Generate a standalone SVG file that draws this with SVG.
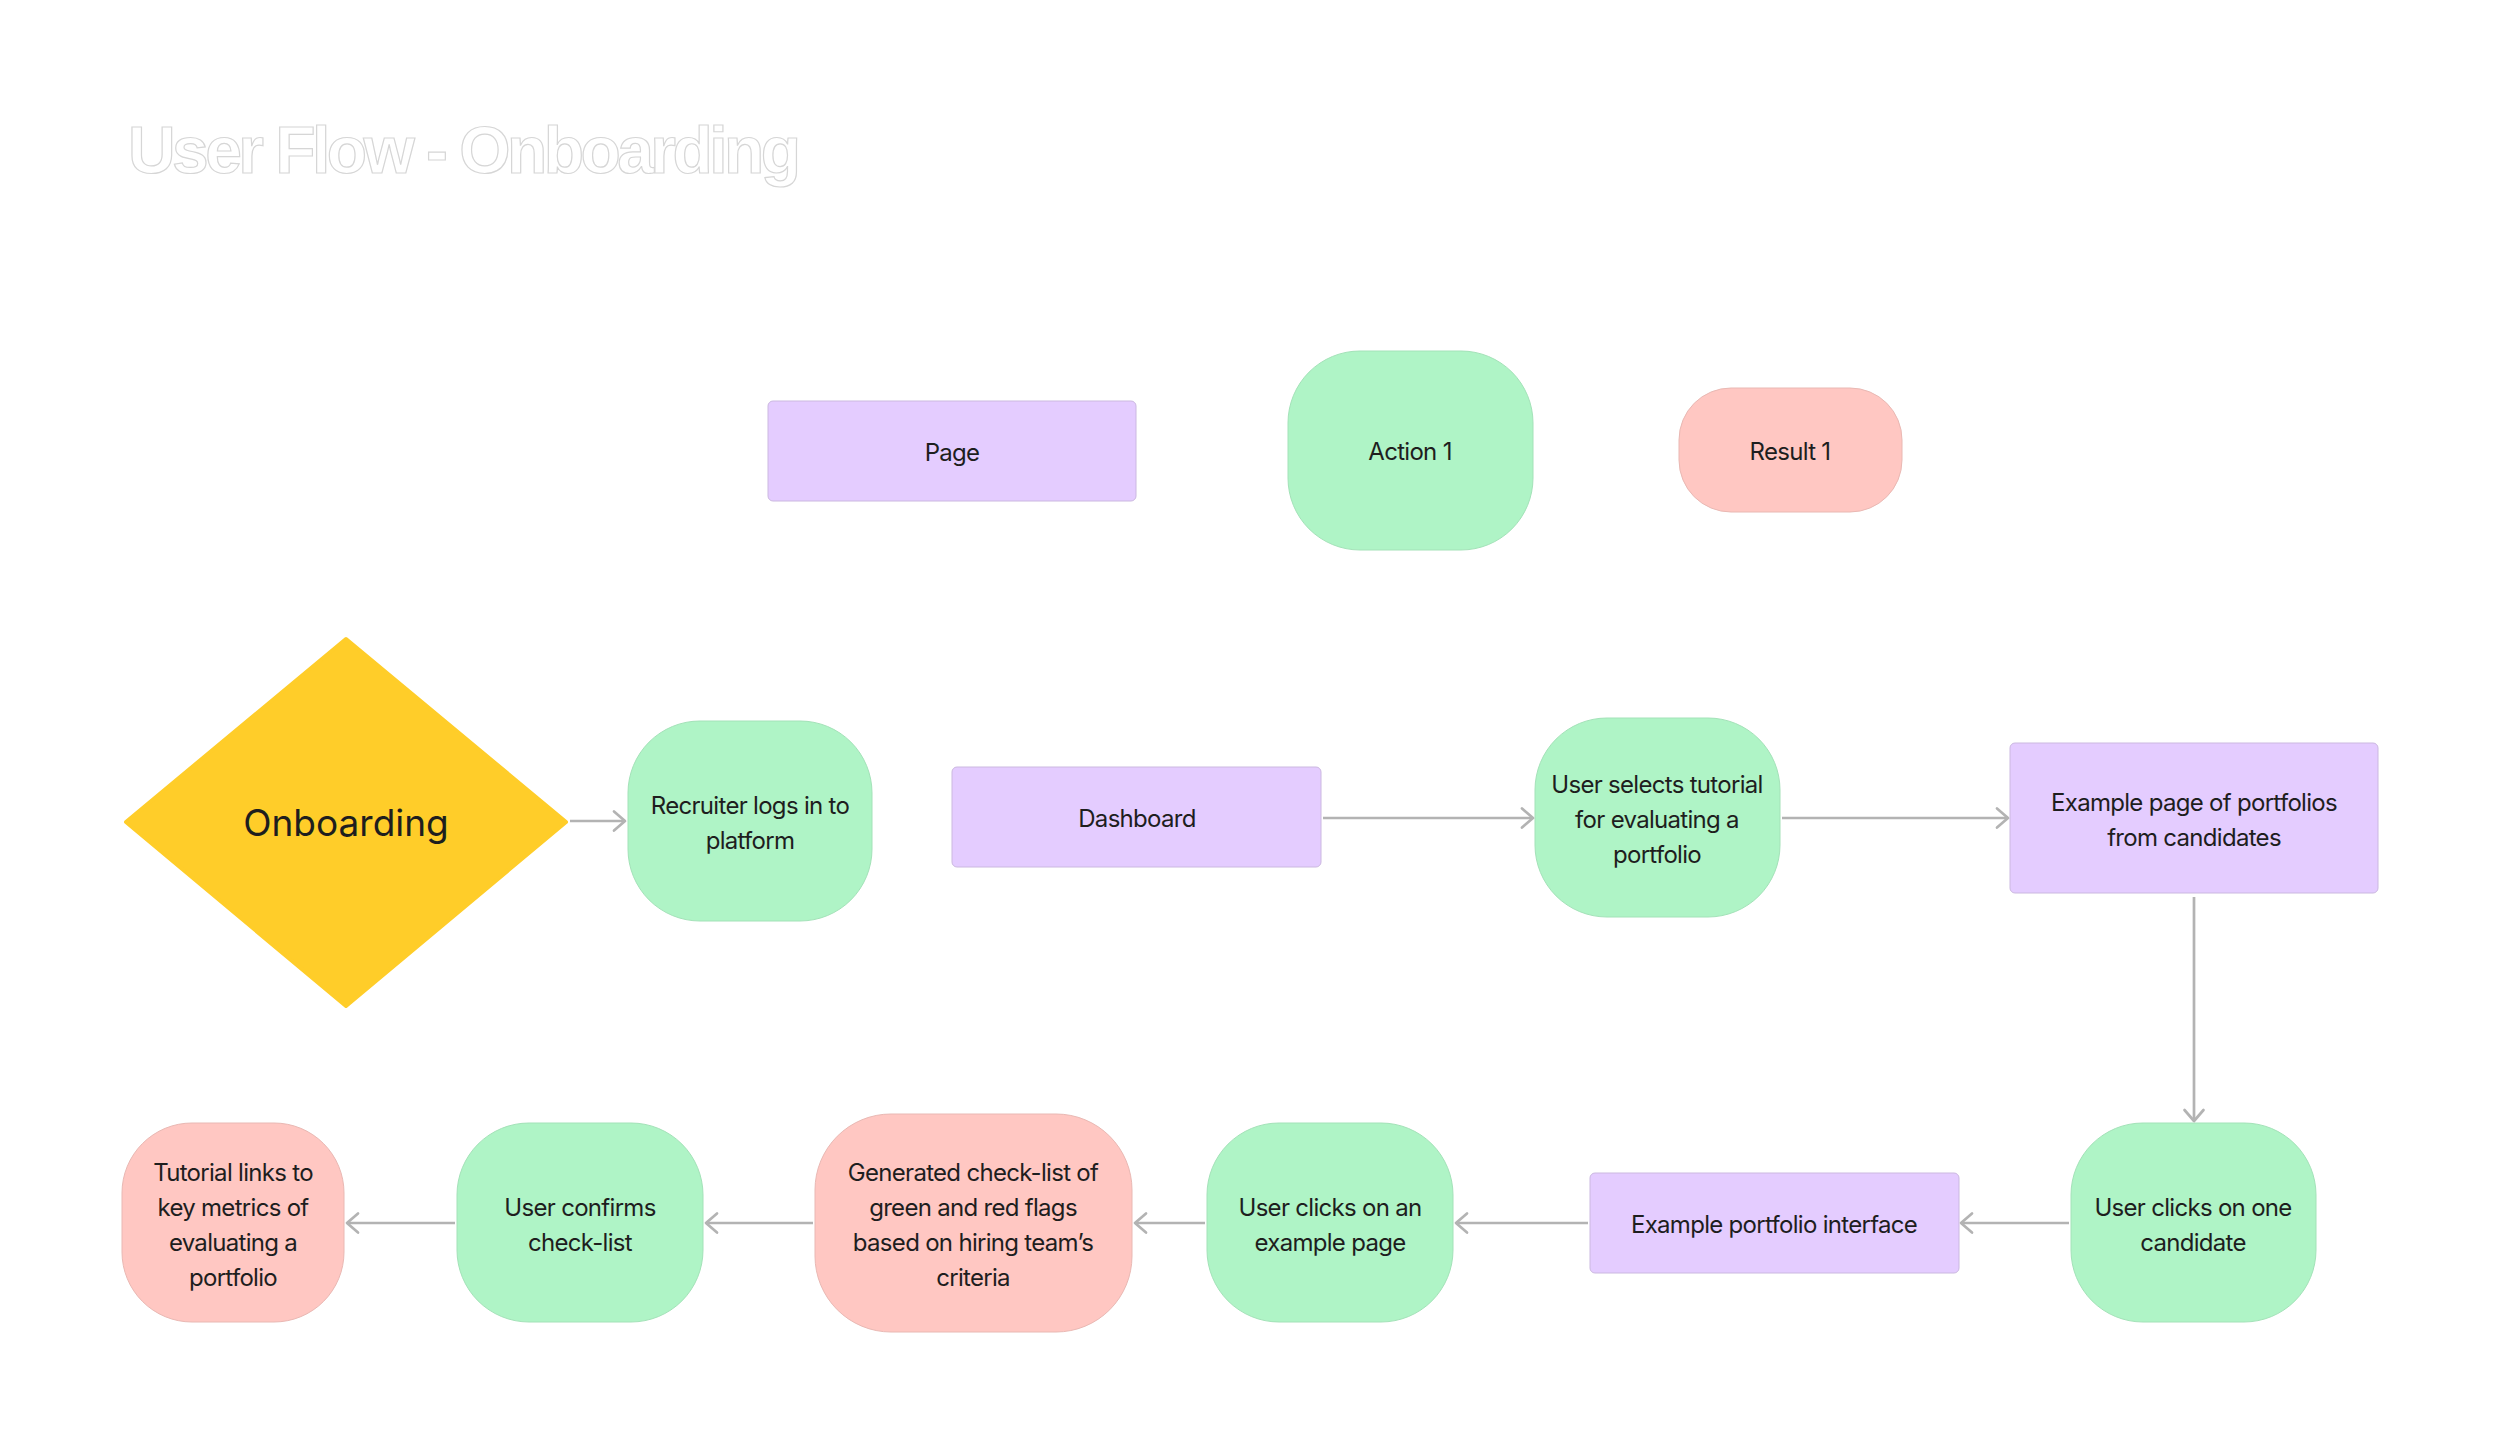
<svg xmlns="http://www.w3.org/2000/svg" width="2500" height="1455" viewBox="0 0 2500 1455">
<style>
.t{font-family:Inter,"Noto Sans",sans-serif;font-size:24px;letter-spacing:-0.7px;fill:#1e1e1e;text-anchor:middle}
.g{fill:#AFF4C6;stroke:#a3e2b8;stroke-width:1}
.p{fill:#FFC7C2;stroke:#e9b8b3;stroke-width:1}
.v{fill:#E4CCFF;stroke:#cbb8e0;stroke-width:1}
.c{stroke:#B3B3B3;stroke-width:2.7;fill:none;marker-end:url(#ah)}
.title{font-family:"Liberation Sans",Arial,sans-serif;font-weight:bold;font-size:66px;fill:#ffffff;stroke:#d6d6d6;stroke-width:1.2}
</style>
<defs>
<marker id="ah" markerUnits="userSpaceOnUse" viewBox="-14 -12 16 24" markerWidth="16" markerHeight="24" refX="0" refY="0" orient="auto">
<path d="M -11 -9.5 L 0 0 L -11 9.5" fill="none" stroke="#B3B3B3" stroke-width="2.7" stroke-linecap="round" stroke-linejoin="round"/>
</marker>
</defs>
<rect width="2500" height="1455" fill="#ffffff"/>
<text class="title" x="128" y="173" textLength="673" lengthAdjust="spacing">User Flow - Onboarding</text>

<g id="legend-page"><rect class="v" x="768" y="401" width="368" height="100" rx="5"/><text class="t" x="952" y="461">Page</text></g>
<g id="legend-action"><rect class="g" x="1288" y="351" width="245" height="199" rx="72"/><text class="t" x="1410" y="460">Action 1</text></g>
<g id="legend-result"><rect class="p" x="1679" y="388" width="223" height="124" rx="52"/><text class="t" x="1790" y="460">Result 1</text></g>

<g id="onboarding"><polygon points="126,822 346,639 566,822 346,1006" fill="#FFCD29" stroke="#FFCD29" stroke-width="4" stroke-linejoin="round"/><text x="346" y="836" style="font-family:Inter,'Noto Sans',sans-serif;font-size:37px;fill:#1e1e1e;text-anchor:middle">Onboarding</text></g>

<g id="recruiter"><rect class="g" x="628" y="721" width="244" height="200" rx="72"/><text class="t" x="750" y="814">Recruiter logs in to</text><text class="t" x="750" y="849">platform</text></g>

<g id="dashboard"><rect class="v" x="952" y="767" width="369" height="100" rx="5"/><text class="t" x="1137" y="827">Dashboard</text></g>

<g id="selects"><rect class="g" x="1535" y="718" width="245" height="199" rx="72"/><text class="t" x="1657" y="793">User selects tutorial</text><text class="t" x="1657" y="828">for evaluating a</text><text class="t" x="1657" y="863">portfolio</text></g>

<g id="example-page"><rect class="v" x="2010" y="743" width="368" height="150" rx="5"/><text class="t" x="2194" y="811">Example page of portfolios</text><text class="t" x="2194" y="846">from candidates</text></g>

<g id="one-candidate"><rect class="g" x="2071" y="1123" width="245" height="199" rx="72"/><text class="t" x="2193" y="1216">User clicks on one</text><text class="t" x="2193" y="1251">candidate</text></g>

<g id="portfolio-interface"><rect class="v" x="1590" y="1173" width="369" height="100" rx="5"/><text class="t" x="1774" y="1233">Example portfolio interface</text></g>

<g id="example-click"><rect class="g" x="1207" y="1123" width="246" height="199" rx="72"/><text class="t" x="1330" y="1216">User clicks on an</text><text class="t" x="1330" y="1251">example page</text></g>

<g id="checklist"><rect class="p" x="815" y="1114" width="317" height="218" rx="76"/><text class="t" x="973" y="1181">Generated check-list of</text><text class="t" x="973" y="1216">green and red flags</text><text class="t" x="973" y="1251">based on hiring team’s</text><text class="t" x="973" y="1286">criteria</text></g>

<g id="confirms"><rect class="g" x="457" y="1123" width="246" height="199" rx="72"/><text class="t" x="580" y="1216">User confirms</text><text class="t" x="580" y="1251">check-list</text></g>

<g id="tutorial-links"><rect class="p" x="122" y="1123" width="222" height="199" rx="70"/><text class="t" x="233" y="1181">Tutorial links to</text><text class="t" x="233" y="1216">key metrics of</text><text class="t" x="233" y="1251">evaluating a</text><text class="t" x="233" y="1286">portfolio</text></g>

<g id="connectors">
<line class="c" x1="570" y1="821" x2="625" y2="821"/>
<line class="c" x1="1323" y1="818" x2="1533" y2="818"/>
<line class="c" x1="1782" y1="818" x2="2008" y2="818"/>
<line class="c" x1="2194" y1="897" x2="2194" y2="1121"/>
<line class="c" x1="2069" y1="1223" x2="1961" y2="1223"/>
<line class="c" x1="1588" y1="1223" x2="1456" y2="1223"/>
<line class="c" x1="1205" y1="1223" x2="1135" y2="1223"/>
<line class="c" x1="813" y1="1223" x2="706" y2="1223"/>
<line class="c" x1="455" y1="1223" x2="347" y2="1223"/>
</g>
</svg>
